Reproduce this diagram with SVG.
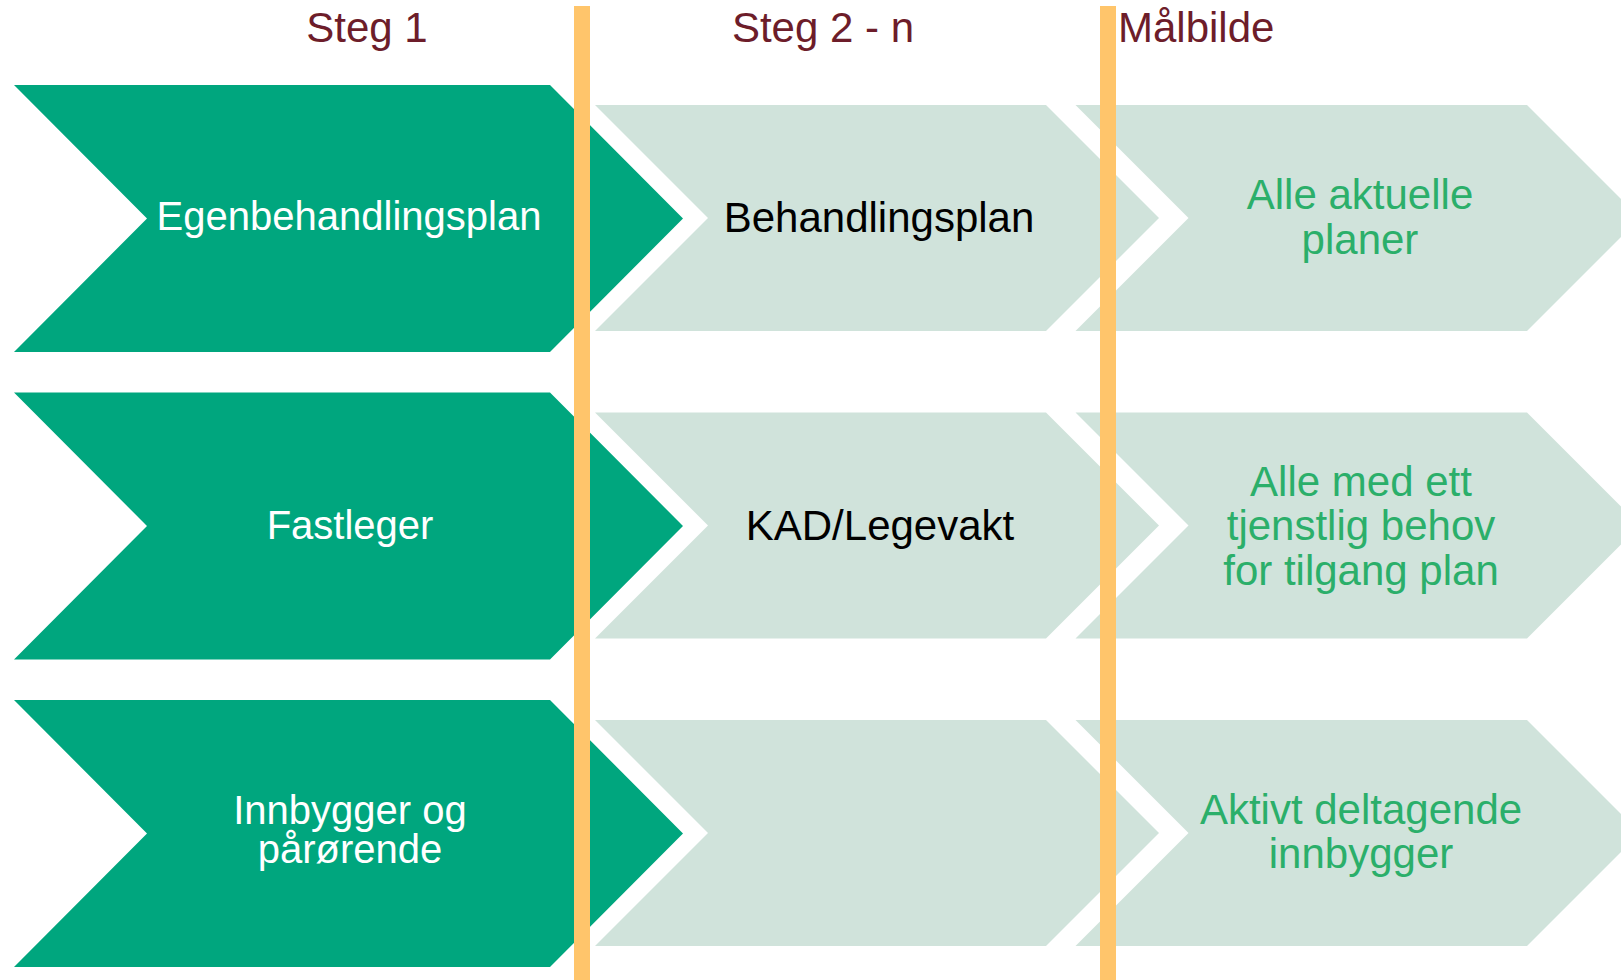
<svg xmlns="http://www.w3.org/2000/svg" width="1621" height="980" viewBox="0 0 1621 980">
  <style>
    .t { font-family: "Liberation Sans", Arial, sans-serif; text-anchor: middle; }
    .hdr { font-size: 42px; fill: #6D1D2A; }
    .g { fill: #00A67E; }
    .l { fill: #D0E3DB; }
    .wt { font-size: 40px; fill: #FFFFFF; }
    .bt { font-size: 42px; fill: #000000; }
    .gt { font-size: 42px; fill: #2BAF6A; }
    .bar { fill: #FFC56B; }
  </style>
  <defs>
    <path id="gch" d="M14,85 H550 L683,218.5 L550,352 H14 L147,218.5 Z"/>
    <path id="lch2" d="M595,105 H1046 L1159,218 L1046,331 H595 L708,218 Z"/>
    <path id="lch3" d="M1075.5,105 H1527 L1640,218 L1527,331 H1075.5 L1188.5,218 Z"/>
  </defs>

  <g id="headers">
    <text class="t hdr" x="367" y="42">Steg 1</text>
    <text class="t hdr" x="823" y="42">Steg 2 - n</text>
    <text class="t hdr" x="1118" y="42" style="text-anchor:start">Målbilde</text>
  </g>

  <g id="node-egenbehandlingsplan">
    <use href="#gch" class="g"/>
    <text class="t wt" x="349" y="230">Egenbehandlingsplan</text>
  </g>
  <g id="node-fastleger" transform="translate(0,307.5)">
    <use href="#gch" class="g"/>
    <text class="t wt" x="350" y="231">Fastleger</text>
  </g>
  <g id="node-innbygger" transform="translate(0,615)">
    <use href="#gch" class="g"/>
    <text class="t wt" x="350" y="208.5">Innbygger og</text>
    <text class="t wt" x="350" y="248">pårørende</text>
  </g>

  <g id="node-behandlingsplan">
    <use href="#lch2" class="l"/>
    <text class="t bt" x="879" y="231.5">Behandlingsplan</text>
  </g>
  <g id="node-kad" transform="translate(0,307.5)">
    <use href="#lch2" class="l"/>
    <text class="t bt" x="880" y="232">KAD/Legevakt</text>
  </g>
  <g id="node-steg2-empty" transform="translate(0,615)">
    <use href="#lch2" class="l"/>
  </g>

  <g id="node-alle-aktuelle">
    <use href="#lch3" class="l"/>
    <text class="t gt" x="1360" y="209">Alle aktuelle</text>
    <text class="t gt" x="1360" y="253.5">planer</text>
  </g>
  <g id="node-alle-med-ett" transform="translate(0,307.5)">
    <use href="#lch3" class="l"/>
    <text class="t gt" x="1361" y="188">Alle med ett</text>
    <text class="t gt" x="1361" y="232.5">tjenstlig behov</text>
    <text class="t gt" x="1361" y="277">for tilgang plan</text>
  </g>
  <g id="node-aktivt" transform="translate(0,615)">
    <use href="#lch3" class="l"/>
    <text class="t gt" x="1361" y="208.5">Aktivt deltagende</text>
    <text class="t gt" x="1361" y="253">innbygger</text>
  </g>

  <g id="connectors">
    <rect class="bar" x="574" y="6" width="16" height="974"/>
    <rect class="bar" x="1100" y="6" width="16" height="974"/>
  </g>
</svg>
